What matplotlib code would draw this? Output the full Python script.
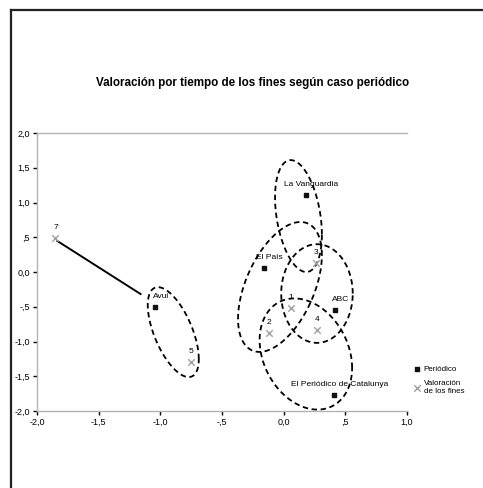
import numpy as np
import matplotlib
matplotlib.use("Agg")
import matplotlib.pyplot as plt
from matplotlib.lines import Line2D

plt.rcParams['font.family'] = ['Liberation Sans Narrow', 'Liberation Sans', 'DejaVu Sans']

title = "Valoración por tiempo de los fines según caso periódico"

# Series 1: periódicos (dark points)
per_x = [-1.04, 0.18, -0.16, 0.42, 0.41]
per_y = [-0.50, 1.11, 0.06, -0.55, -1.77]
per_labels = ["Avui", "La Vanguardia", "El País", "ABC", "El Periódico de Catalunya"]

# Series 2: valoración (grey X)
val_x = [-1.85, -0.75, 0.26, 0.06, -0.12, 0.27]
val_y = [0.49, -1.29, 0.13, -0.52, -0.88, -0.83]
val_labels = ["7", "5", "3", "1", "2", "4"]

# Connecting line
line_x = [-1.835, -1.16]
line_y = [0.446, -0.317]

# Ellipses: centre x, centre y, half-width x, half-height y, correlation
ell_cx = [-0.895, 0.12, -0.03, 0.27, 0.18]
ell_cy = [-0.865, 0.805, -0.215, -0.31, -1.18]
ell_sx = [0.207, 0.19, 0.34, 0.29, 0.375]
ell_sy = [0.647, 0.805, 0.935, 0.71, 0.80]
ell_r = [-0.6, -0.33, 0.49, 0.0, -0.25]

x_ticks = [-2.0, -1.5, -1.0, -0.5, 0.0, 0.5, 1.0]
x_ticklabels = ["-2,0", "-1,5", "-1,0", "-,5", "0,0", ",5", "1,0"]
y_ticks = [-2.0, -1.5, -1.0, -0.5, 0.0, 0.5, 1.0, 1.5, 2.0]
y_ticklabels = ["-2,0", "-1,5", "-1,0", "-,5", "0,0", ",5", "1,0", "1,5", "2,0"]

W, H = 483, 488
fig = plt.figure(figsize=(W / 100, H / 100), dpi=100)
fig.patch.set_facecolor("white")

# outer frame (top and left edges)
fig.add_artist(Line2D([11 / W, 1.0], [1 - 10 / H, 1 - 10 / H], transform=fig.transFigure,
                      color="#222222", lw=1.6))
fig.add_artist(Line2D([11 / W, 11 / W], [0.0, 1 - 10 / H], transform=fig.transFigure,
                      color="#222222", lw=1.6))

ax = fig.add_axes([37 / W, 1 - 411 / H, 370 / W, 278 / H])
ax.set_xlim(-2.0, 1.0)
ax.set_ylim(-2.0, 2.0)

for s in ["left", "bottom", "top"]:
    ax.spines[s].set_color("#b4b4b4")
    ax.spines[s].set_linewidth(1.0)
ax.spines["right"].set_visible(False)

ax.set_xticks(x_ticks)
ax.set_xticklabels(x_ticklabels, fontsize=6.5)
ax.set_yticks(y_ticks)
ax.set_yticklabels(y_ticklabels, fontsize=6.5)
ax.tick_params(axis="both", length=3, width=1, color="black", pad=2)

# ellipses
t = np.linspace(0, 2 * np.pi, 300)
for cx, cy, sx, sy, r in zip(ell_cx, ell_cy, ell_sx, ell_sy, ell_r):
    ex = cx + sx * np.cos(t)
    ey = cy + sy * (r * np.cos(t) + np.sqrt(1 - r * r) * np.sin(t))
    ax.plot(ex, ey, color="black", lw=1.3, linestyle=(0, (3, 2)), clip_on=False)

ax.plot(line_x, line_y, color="black", lw=1.4)

ax.scatter(per_x, per_y, marker="s", s=10, color="#111111", zorder=5, label="Periódico")
ax.scatter(val_x, val_y, marker="x", s=22, color="#a0a0a0", linewidths=1.0, zorder=5,
           label="Valoración\nde los fines")

for x, y, lab in zip(per_x, per_y, per_labels):
    ax.annotate(lab, (x, y), xytext=(4, 5), textcoords="offset points", fontsize=6,
                ha="center", va="bottom", color="black")
for x, y, lab in zip(val_x, val_y, val_labels):
    ax.annotate(lab, (x, y), xytext=(0, 5), textcoords="offset points", fontsize=6,
                ha="center", va="bottom", color="black")

fig.text(253 / W, 1 - 83 / H, title, fontsize=8.4, fontweight="bold", ha="center", va="center")

ax.legend(loc="upper left", bbox_to_anchor=(410 / W, 1 - 362 / H), bbox_transform=fig.transFigure,
          frameon=False, fontsize=5.8, handletextpad=0.3, handlelength=1.0, borderaxespad=0,
          labelspacing=0.9)

fig.savefig("out.png", dpi=100)
